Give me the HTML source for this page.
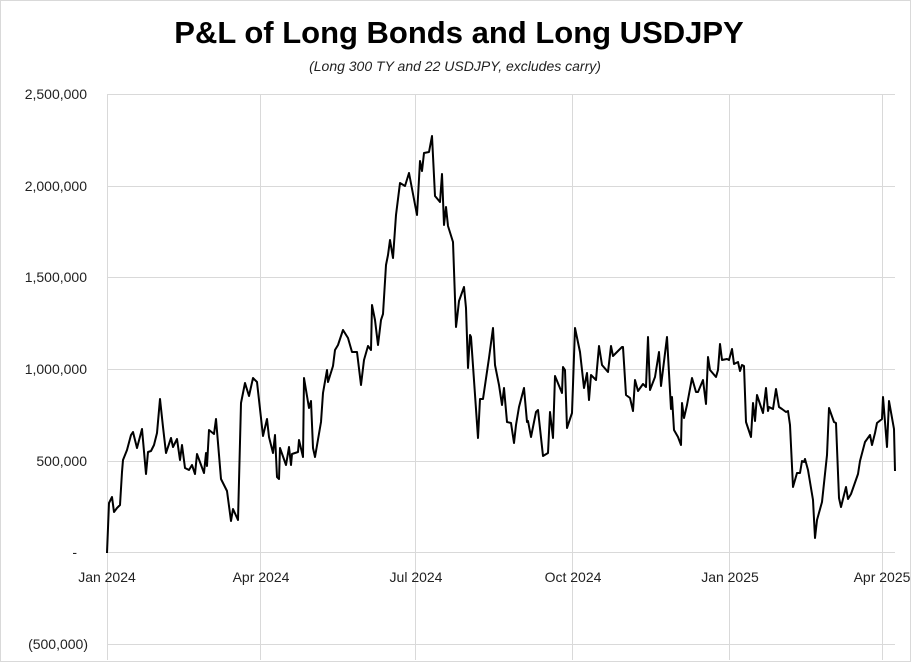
<!DOCTYPE html>
<html><head><meta charset="utf-8"><style>
body{margin:0;background:#fff}
svg{display:block;font-family:"Liberation Sans",sans-serif}
</style></head><body>
<svg width="911" height="662" viewBox="0 0 911 662">
<rect x="0.5" y="0.5" width="910" height="661" fill="#fff" stroke="#d9d9d9"/>
<text x="459" y="43" text-anchor="middle" font-size="31" font-weight="bold" fill="#000">P&amp;L of Long Bonds and Long USDJPY</text>
<text x="455" y="71" text-anchor="middle" font-size="14" font-style="italic" fill="#222">(Long 300 TY and 22 USDJPY, excludes carry)</text>
<g stroke="#d9d9d9" stroke-width="1">
<line x1="107" y1="94.5" x2="895" y2="94.5"/>
<line x1="107" y1="186.5" x2="895" y2="186.5"/>
<line x1="107" y1="277.5" x2="895" y2="277.5"/>
<line x1="107" y1="369.5" x2="895" y2="369.5"/>
<line x1="107" y1="461.5" x2="895" y2="461.5"/>
<line x1="107" y1="552.5" x2="895" y2="552.5"/>
<line x1="107" y1="644.5" x2="895" y2="644.5"/>
<line x1="107.5" y1="94" x2="107.5" y2="660"/>
<line x1="260.5" y1="94" x2="260.5" y2="660"/>
<line x1="415.5" y1="94" x2="415.5" y2="660"/>
<line x1="572.5" y1="94" x2="572.5" y2="660"/>
<line x1="729.5" y1="94" x2="729.5" y2="660"/>
<line x1="882.5" y1="94" x2="882.5" y2="660"/>
</g>
<g font-size="14" fill="#222" text-anchor="end">
<text x="87" y="99">2,500,000</text>
<text x="87" y="191">2,000,000</text>
<text x="87" y="282">1,500,000</text>
<text x="87" y="374">1,000,000</text>
<text x="87" y="466">500,000</text>
<text x="77" y="557">-</text>
<text x="88" y="649">(500,000)</text>
</g>
<g font-size="14" fill="#222" text-anchor="middle">
<text x="107" y="582">Jan 2024</text>
<text x="261" y="582">Apr 2024</text>
<text x="416" y="582">Jul 2024</text>
<text x="573" y="582">Oct 2024</text>
<text x="730" y="582">Jan 2025</text>
<text x="882" y="582">Apr 2025</text>
</g>
<polyline fill="none" stroke="#000" stroke-width="2" stroke-linejoin="round" points="107,553 109,503 112,497 114,512 117,508 120,505 122,472 123,460 127,450 131,435 133,432 137,448 142,429 146,474 148,452 151,451 154,445 157,433 160,399 163,427 166,453 168,447 171,438 173,447 177,439 180,460 182,445 185,468 189,470 192,465 195,474 197,454 204,473 206,453 207,466 209,430 214,434 216,419 221,479 227,491 231,521 233,509 238,520 241,403 245,383 249,396 253,378 257,382 263,436 267,419 269,437 273,453 275,435 277,477 279,479 280,448 286,465 289,447 291,465 292,454 298,452 299,440 303,457 304,378 309,408 311,401 313,448 315,457 321,422 323,393 327,370 328,382 333,366 335,350 338,345 343,330 348,338 352,352 357,352 361,385 364,360 368,346 371,350 372,305 375,320 378,345 381,320 383,314 386,265 388,255 390,240 393,258 396,215 400,183 405,186 409,173 417,215 420,161 422,171 424,153 429,152 432,136 435,196 440,202 442,174 444,225 446,207 448,226 453,242 456,327 457,319 459,301 464,287 466,308 468,368 470,335 471,337 478,438 480,399 483,399 489,358 493,328 495,365 499,385 502,405 504,388 507,422 511,423 514,443 516,425 519,407 524,388 527,422 528,421 531,437 536,412 538,410 543,456 548,453 550,412 553,438 555,376 562,393 563,367 565,370 567,428 572,413 575,328 580,352 584,388 587,373 589,400 591,375 596,380 599,346 602,365 608,372 611,346 613,356 622,347 623,347 626,395 630,398 633,411 635,380 638,391 643,384 646,387 648,337 650,390 655,377 659,352 661,386 667,337 671,409 672,397 674,430 678,437 681,445 682,403 684,418 687,405 692,378 696,392 698,392 703,380 706,404 708,357 710,370 716,377 718,370 720,344 722,360 727,359 729,360 732,349 734,364 738,362 740,371 742,365 744,366 746,422 751,437 753,403 755,421 757,395 763,413 766,388 768,411 769,407 773,409 776,389 779,407 782,409 786,412 788,411 790,425 793,487 797,473 800,473 802,461 804,462 805,459 808,470 813,500 815,538 817,520 822,502 827,455 829,408 834,422 836,423 839,498 841,507 846,487 848,499 851,494 858,474 860,461 865,442 870,435 872,445 875,433 877,423 882,419 883,397 887,447 889,401 894,429 895,471"/>
</svg>
</body></html>
